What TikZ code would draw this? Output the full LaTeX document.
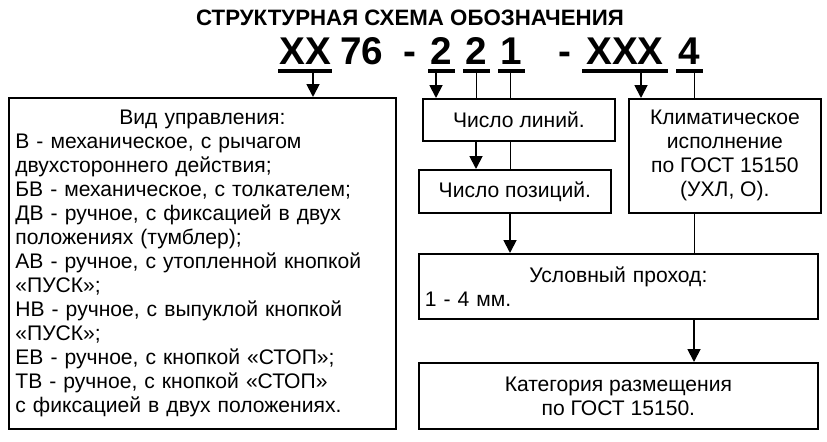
\documentclass[tikz,border=0pt]{standalone}
\usepackage{fontspec}
\setmainfont{Liberation Sans}
\usetikzlibrary{arrows.meta,positioning}
\tikzset{
  box/.style={rectangle, draw=black, line width=1.5pt, font=\fontsize{18}{20.5}\selectfont, inner sep=5pt},
  code/.style={anchor=base, font=\fontsize{33}{33}\selectfont\bfseries},
  uline/.style={line width=2.6pt},
  link/.style={line width=0.8pt},
  arrow/.style={line width=1.6pt, -{Triangle[length=11pt,width=11pt]}}
}
\begin{document}
\begin{tikzpicture}[x=0.03cm,y=-0.03cm]
\useasboundingbox (0,0) rectangle (827,442);
% title and code
\node (title) [font=\fontsize{19}{19}\selectfont\bfseries] at (410,18) {СТРУКТУРНАЯ СХЕМА ОБОЗНАЧЕНИЯ};
\node (cxx) [code] at (305,64) {XX};
\node (c76) [code] at (362,64) {76};
\node (cd1) [code] at (410,64) {-};
\node (c2a) [code] at (441,64) {2};
\node (c2b) [code] at (476,64) {2};
\node (c1) [code] at (511,64) {1};
\node (cd2) [code] at (565,64) {-};
\node (cxxx) [code] at (625,64) {XXX};
\node (c4) [code] at (689,64) {4};
\draw [uline] (278,71) -- (332,71);
\draw [uline] (428,71) -- (455,71);
\draw [uline] (463,71) -- (490,71);
\draw [uline] (498,71) -- (525,71);
\draw [uline] (582,71) -- (668,71);
\draw [uline] (676,71) -- (703,71);
\coordinate (uxx) at (313,71);
\coordinate (u2a) at (436,71);
\coordinate (u2b) at (476,71);
\coordinate (u1) at (510,71);
\coordinate (uxxx) at (641,71);
\coordinate (u4) at (694,71);
% boxes
\node (vid) [box, anchor=north west, minimum width=387*0.03cm, minimum height=331*0.03cm, text width=374*0.03cm, align=left] at (8,97)
  {\makebox[\linewidth]{Вид управления:}\\
   В - механическое, с рычагом\\
   двухстороннего действия;\\
   БВ - механическое, с толкателем;\\
   ДВ - ручное, с фиксацией в двух\\
   положениях (тумблер);\\
   АВ - ручное, с утопленной кнопкой\\
   «ПУСК»;\\
   НВ - ручное, с выпуклой кнопкой\\
   «ПУСК»;\\
   ЕВ - ручное, с кнопкой «СТОП»;\\
   ТВ - ручное, с кнопкой «СТОП»\\
   с фиксацией в двух положениях.};
\node (lin) [box, anchor=north west, minimum width=192*0.03cm, minimum height=42*0.03cm] at (422,98) {Число линий.};
\node (poz) [box, anchor=north west, minimum width=192*0.03cm, minimum height=43*0.03cm] at (418,169) {Число позиций.};
\node (klim) [box, anchor=north west, minimum width=192*0.03cm, minimum height=114*0.03cm, align=center] at (628,98)
  {Климатическое\\исполнение\\по ГОСТ 15150\\(УХЛ, О).};
\node (dn) [box, anchor=north west, minimum width=399*0.03cm, minimum height=65*0.03cm, text width=387*0.03cm, align=left] at (418,253)
  {\makebox[\linewidth]{Условный проход:}\\1 - 4 мм.};
\node (kat) [box, anchor=north west, minimum width=399*0.03cm, minimum height=66*0.03cm, align=center] at (418,362)
  {Категория размещения\\по ГОСТ 15150.};
% edges
\draw [arrow] (uxx) -- (uxx |- vid.north);
\draw [arrow] (u2a) -- (u2a |- lin.north);
\draw [link] (u2b) -- (u2b |- lin.north);
\draw [link] (u1) -- (u1 |- lin.north);
\draw [arrow] (uxxx) -- (uxxx |- klim.north);
\draw [link] (u4) -- (u4 |- klim.north);
\draw [arrow] (u2b |- lin.south) -- (u2b |- poz.north);
\draw [link] (u1 |- lin.south) -- (u1 |- poz.north);
\draw [arrow] (u1 |- poz.south) -- (u1 |- dn.north);
\draw [link] (u4 |- klim.south) -- (u4 |- dn.north);
\draw [arrow] (u4 |- dn.south) -- (u4 |- kat.north);
\end{tikzpicture}
\end{document}
